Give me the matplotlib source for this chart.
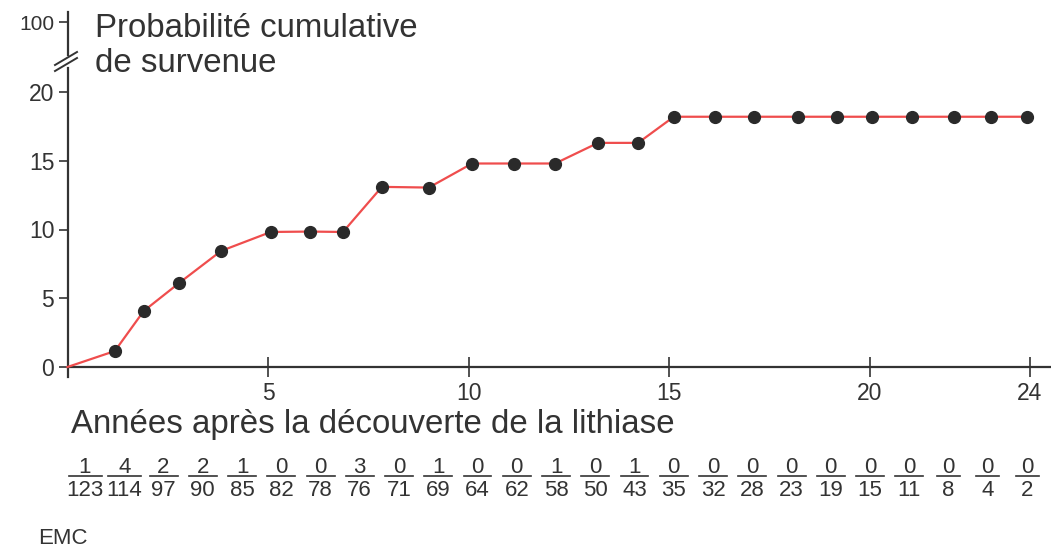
import numpy as np
import matplotlib
matplotlib.use("Agg")
import matplotlib.pyplot as plt
from matplotlib.transforms import blended_transform_factory
from matplotlib.lines import Line2D

plt.rcParams['font.family'] = ['Liberation Sans', 'DejaVu Sans']

# ---- data ----
years = [0, 1.18, 1.90, 2.78, 3.83, 5.07, 6.05, 6.87, 7.84, 9.01, 10.09, 11.13,
         12.16, 13.23, 14.23, 15.12, 16.14, 17.11, 18.21, 19.18, 20.05, 21.05,
         22.10, 23.03, 23.92]
prob = [0, 1.16, 4.07, 6.10, 8.44, 9.82, 9.85, 9.82, 13.10, 13.05, 14.80, 14.80,
        14.80, 16.30, 16.30, 18.20, 18.20, 18.20, 18.20, 18.20, 18.20, 18.20,
        18.20, 18.20, 18.20]
events = [1, 4, 2, 2, 1, 0, 0, 3, 0, 1, 0, 0, 1, 0, 1, 0, 0, 0, 0, 0, 0, 0, 0, 0, 0]
at_risk = [123, 114, 97, 90, 85, 82, 78, 76, 71, 69, 64, 62, 58, 50, 43, 35, 32,
           28, 23, 19, 15, 11, 8, 4, 2]
xticks = [5, 10, 15, 20, 24]
yticks = [0, 5, 10, 15, 20]

TXT = '#333333'
RED = '#ef4d4d'
DOT = '#2a2a2a'

W, H = 1051, 549
fig = plt.figure(figsize=(W / 100, H / 100), dpi=100)

x0_px, xr_px = 67.5, 1051
ppu_x = 40.1
ppu_y = 13.75
xmax = (xr_px - x0_px) / ppu_x

# main axes: y=0 at 367 px from top, top at 68 px, bottom at 377 px
ax = fig.add_axes([x0_px / W, (H - 377) / H, (xr_px - x0_px) / W, (377 - 68) / H])
ax.set_xlim(0, xmax)
ax.set_ylim(-10 / ppu_y, (367 - 68) / ppu_y)
for s in ['top', 'right']:
    ax.spines[s].set_visible(False)
ax.spines['bottom'].set_position(('data', 0))
for s in ['left', 'bottom']:
    ax.spines[s].set_color(TXT)
    ax.spines[s].set_linewidth(1.6)

ax.plot(years, prob, color=RED, lw=1.6, zorder=3, clip_on=False)
ax.plot(years[1:], prob[1:], 'o', color=DOT, ms=8.5, zorder=4, clip_on=False)

ax.set_xticks(xticks)
ax.set_yticks(yticks)
ax.tick_params(axis='x', direction='inout', length=14, width=1.2, colors=TXT,
               labelsize=16.5, pad=4)
ax.tick_params(axis='y', direction='out', length=6.5, width=1.2, colors=TXT,
               labelsize=16.5, pad=3)

# top axes for the 100 value (broken axis)
ax2 = fig.add_axes([x0_px / W, (H - 55) / H, (xr_px - x0_px) / W, (55 - 12) / H])
ax2.set_xlim(0, xmax)
ax2.set_ylim(100 - 33 / ppu_y, 100 + 10 / ppu_y)
for s in ['top', 'right', 'bottom']:
    ax2.spines[s].set_visible(False)
ax2.spines['left'].set_color(TXT)
ax2.spines['left'].set_linewidth(1.6)
ax2.set_xticks([])
ax2.set_yticks([100])
ax2.tick_params(axis='y', direction='out', length=6.5, width=1.2, colors=TXT,
                labelsize=15, pad=3)
ax2.patch.set_alpha(0)

# break marks
def px(x, y):
    return x / W, 1 - y / H
for dy in (0, 6):
    (xa, ya), (xb, yb) = px(55, 65 + dy), px(77, 52 + dy)
    fig.add_artist(Line2D([xa, xb], [ya, yb], color=TXT, lw=1.4,
                          transform=fig.transFigure))

# y label
fig.text(95 / W, 1 - 37 / H, 'Probabilité cumulative', fontsize=23.8, color=TXT,
         ha='left', va='baseline')
fig.text(95 / W, 1 - 72 / H, 'de survenue', fontsize=23.8, color=TXT,
         ha='left', va='baseline')

# x label
fig.text(71 / W, 1 - 433 / H, 'Années après la découverte de la lithiase',
         fontsize=23.8, color=TXT, ha='left', va='baseline')

# fractions (events / at risk)
tr = blended_transform_factory(ax.transData, fig.transFigure)
pos = np.linspace((85 - x0_px) / ppu_x, (1027 - x0_px) / ppu_x, len(at_risk))
for p, e, n in zip(pos, events, at_risk):
    ax.text(p, 1 - 473 / H, str(e), transform=tr, ha='center', va='baseline',
            fontsize=16, color=TXT, clip_on=False)
    ax.text(p, 1 - 496 / H, str(n), transform=tr, ha='center', va='baseline',
            fontsize=16, color=TXT, clip_on=False)
    hw = (18 + 5 * len(str(n))) / 2 / ppu_x
    ax.add_line(Line2D([p - hw, p + hw], [1 - 476 / H] * 2, transform=tr,
                       color=TXT, lw=1.2, clip_on=False))

# logo
fig.text(38 / W, 1 - 544 / H, 'EMC', fontsize=16, color=TXT, ha='left',
         va='baseline')

fig.savefig('out.png', dpi=100)
